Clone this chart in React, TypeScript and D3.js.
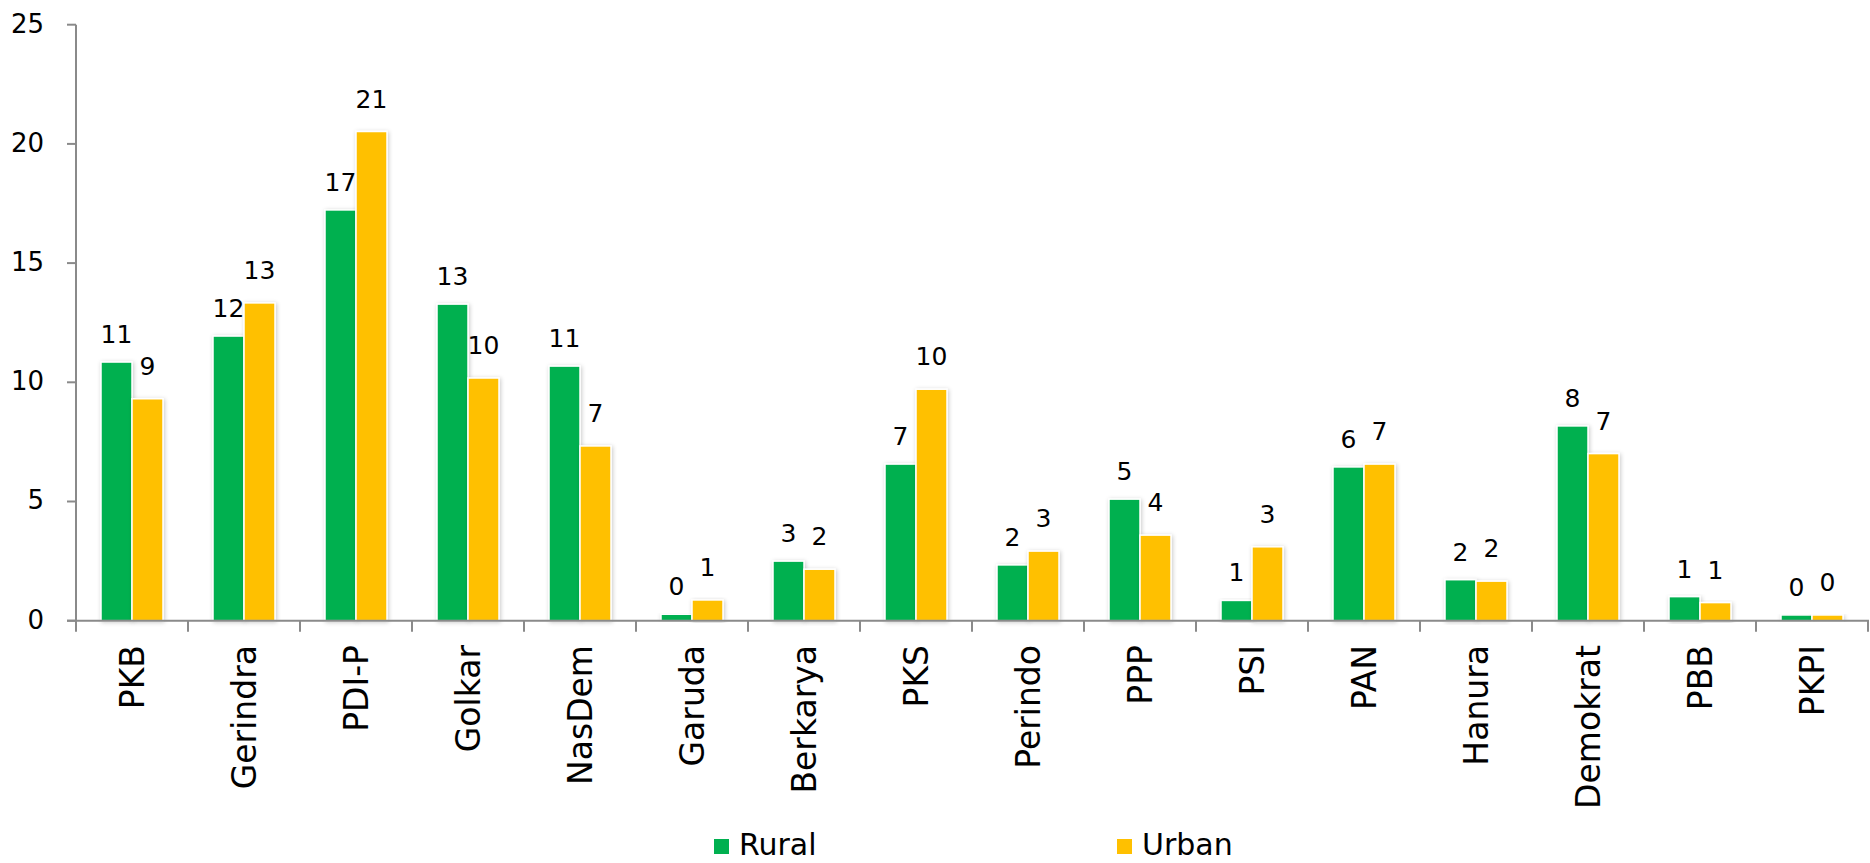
import React from "react";
import * as d3 from "d3";

const categories = ["PKB", "Gerindra", "PDI-P", "Golkar", "NasDem", "Garuda", "Berkarya", "PKS", "Perindo", "PPP", "PSI", "PAN", "Hanura", "Demokrat", "PBB", "PKPI"];
const seriesNames = ["Rural", "Urban"];
const rural = [10.85, 11.94, 17.23, 13.28, 10.68, 0.27, 2.5, 6.57, 2.34, 5.1, 0.85, 6.45, 1.72, 8.17, 1.01, 0.24];
const urban = [9.31, 13.33, 20.52, 10.18, 7.33, 0.87, 2.16, 9.71, 2.92, 3.59, 3.1, 6.57, 1.66, 7.01, 0.76, 0.24];
const yTicks = [0, 5, 10, 15, 20, 25];

const colors = ["#00B050", "#FFC000"];
const labelGap = [19, 24];
const W = 1870;
const H = 863;
const axisColor = "#8a8a8a";
const font = "'DejaVu Sans', Verdana, sans-serif";

export default function App() {
  const x0 = d3.scaleBand<string>().domain(categories).range([76, 1868]).padding(0);
  const x1 = d3.scaleBand<string>().domain(seriesNames).range([25, 87]).padding(0);
  const y = d3.scaleLinear().domain([0, 25]).range([620.7, 24.7]);
  const data = [rural, urban];
  const bw = x1.bandwidth();
  const boundaries = categories.map((c) => x0(c) as number).concat([x0.range()[1]]);

  return (
    <svg width={W} height={H} style={{ position: "absolute", left: 0, top: 0, background: "#fff" }}>
      <defs>
        <filter id="shadow" x="-30%" y="-10%" width="160%" height="120%">
          <feDropShadow dx="1" dy="1" stdDeviation="2" floodColor="#000" floodOpacity="0.22" />
        </filter>
      </defs>
      {/* bars */}
      {seriesNames.map((s, si) => (
        <g key={s}>
          {categories.map((c, ci) => {
            const v = data[si][ci];
            const xx = (x0(c) as number) + (x1(s) as number);
            return (
              <rect
                key={c}
                x={xx}
                y={y(v)}
                width={bw}
                height={y(0) - y(v)}
                fill={colors[si]}
                stroke="#fff"
                strokeWidth={1.5}
                filter="url(#shadow)"
              />
            );
          })}
        </g>
      ))}
      {/* data labels */}
      {seriesNames.map((s, si) => (
        <g key={s + "l"}>
          {categories.map((c, ci) => {
            const v = data[si][ci];
            const cx = (x0(c) as number) + (x1(s) as number) + bw / 2;
            return (
              <text key={c} x={cx} y={y(v) - labelGap[si]} textAnchor="middle" fontFamily={font} fontSize={25} fill="#000">
                {Math.round(v)}
              </text>
            );
          })}
        </g>
      ))}
      {/* y axis */}
      <line x1={76} x2={76} y1={y(25)} y2={y(0)} stroke={axisColor} strokeWidth={2} />
      {yTicks.map((t) => (
        <g key={t}>
          <line x1={67} x2={76} y1={y(t)} y2={y(t)} stroke={axisColor} strokeWidth={2} />
          <text x={44} y={y(t)} dy="0.3em" textAnchor="end" fontFamily={font} fontSize={26} fill="#000">
            {t}
          </text>
        </g>
      ))}
      {/* x axis */}
      <line x1={67} x2={1869} y1={y(0)} y2={y(0)} stroke={axisColor} strokeWidth={2} />
      {boundaries.map((b, i) => (
        <line key={i} x1={b} x2={b} y1={y(0)} y2={y(0) + 11} stroke={axisColor} strokeWidth={2} />
      ))}
      {categories.map((c) => {
        const cx = (x0(c) as number) + x0.bandwidth() / 2 + 12;
        return (
          <text key={c} transform={`translate(${cx},645) rotate(-90)`} textAnchor="end" fontFamily={font} fontSize={33} fill="#000">
            {c}
          </text>
        );
      })}
      {/* legend */}
      {seriesNames.map((s, si) => {
        const lx = [714, 1117][si];
        return (
          <g key={s + "leg"}>
            <rect x={lx} y={839} width={15} height={15} fill={colors[si]} />
            <text x={lx + 25} y={855} fontFamily={font} fontSize={30} fill="#000">
              {s}
            </text>
          </g>
        );
      })}
    </svg>
  );
}
